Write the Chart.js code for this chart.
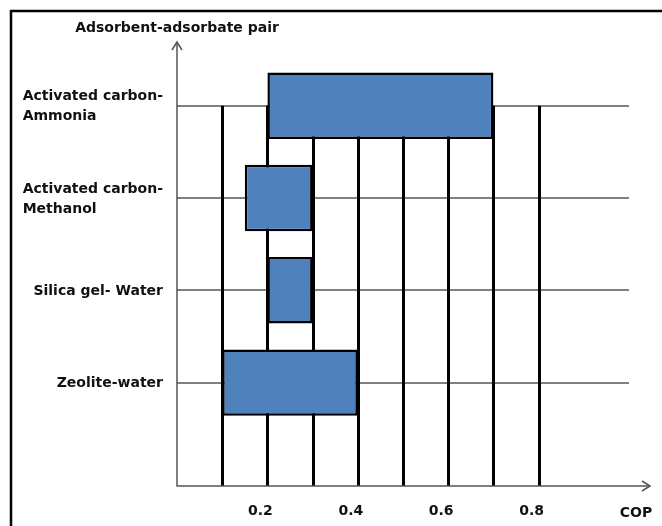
<!DOCTYPE html>
<html>
<head>
<meta charset="utf-8">
<script src="https://cdn.jsdelivr.net/npm/chart.js@4"></script>
<style>
  html, body { margin: 0; padding: 0; background: #fff; }
  canvas { display: block; }
</style>
</head>
<body>
<canvas id="c" width="662" height="526"></canvas>
<script>
// ---- data ----
const pairLabels = [
  ['Activated carbon-', 'Ammonia'],
  ['Activated carbon-', 'Methanol'],
  ['Silica gel- Water'],
  ['Zeolite-water']
];
const copLow  = [0.2, 0.15, 0.2, 0.1];
const copHigh = [0.7, 0.3, 0.3, 0.4];
const copTickLabels = [0.2, 0.4, 0.6, 0.8];
const copGridValues = [0.1, 0.2, 0.3, 0.4, 0.5, 0.6, 0.7, 0.8];
const yAxisTitle = 'Adsorbent-adsorbate pair';
const xAxisTitle = 'COP';

const FONT = 'DejaVu Sans';
Chart.defaults.font.family = FONT;

const barData = pairLabels.map((_, i) => ({ y: i, x: [copLow[i], copHigh[i]] }));

const decor = {
  id: 'decor',
  beforeDatasetsDraw(chart) {
    const { ctx, chartArea: a, scales: { x, y } } = chart;
    const x0 = x.getPixelForValue(0);
    const yTopCat = y.getPixelForValue(0);
    ctx.save();
    // vertical black lines
    ctx.strokeStyle = '#000';
    ctx.lineWidth = 3;
    copGridValues.forEach(v => {
      const px = Math.round(x.getPixelForValue(v)) + 0.5;
      ctx.beginPath();
      ctx.moveTo(px, yTopCat);
      ctx.lineTo(px, a.bottom);
      ctx.stroke();
    });
    // axes
    ctx.strokeStyle = '#555';
    ctx.lineWidth = 1.5;
    const xr = a.right + 21;
    ctx.beginPath();
    ctx.moveTo(x0, a.top);
    ctx.lineTo(x0, a.bottom);
    ctx.lineTo(xr, a.bottom);
    ctx.stroke();
    // arrowheads
    ctx.beginPath();
    ctx.moveTo(x0 - 5, a.top + 8);
    ctx.lineTo(x0, a.top);
    ctx.lineTo(x0 + 5, a.top + 8);
    ctx.moveTo(xr - 8, a.bottom - 5);
    ctx.lineTo(xr, a.bottom);
    ctx.lineTo(xr - 8, a.bottom + 5);
    ctx.stroke();
    ctx.restore();
  },
  afterDraw(chart) {
    const { ctx, chartArea: a, scales: { x, y } } = chart;
    ctx.save();
    ctx.fillStyle = '#111';
    ctx.font = 'bold 14px "' + FONT + '"';
    ctx.textBaseline = 'middle';
    // axis titles
    ctx.textAlign = 'center';
    ctx.fillText(yAxisTitle, x.getPixelForValue(0), 28);
    ctx.fillText(xAxisTitle, a.right + 7, 513);
    // category labels: block right-aligned, lines left-aligned
    ctx.textAlign = 'left';
    const rightEdge = x.getPixelForValue(0) - 14;
    pairLabels.forEach((lines, i) => {
      const cy = y.getPixelForValue(i);
      const w = Math.max(...lines.map(l => ctx.measureText(l).width));
      const lx = rightEdge - w;
      lines.forEach((l, j) => {
        ctx.fillText(l, lx, cy + (j - (lines.length - 1) / 2) * 20 + 1);
      });
    });
    // outer frame
    ctx.strokeStyle = '#000';
    ctx.lineWidth = 2.5;
    ctx.beginPath();
    ctx.moveTo(11, chart.height);
    ctx.lineTo(11, 11);
    ctx.lineTo(chart.width, 11);
    ctx.stroke();
    ctx.restore();
  }
};

new Chart(document.getElementById('c'), {
  type: 'bar',
  data: {
    datasets: [{
      data: barData,
      backgroundColor: '#4F81BD',
      borderColor: '#000',
      borderWidth: 2.5,
      borderSkipped: false,
      categoryPercentage: 0.8,
      barPercentage: 0.9
    }]
  },
  options: {
    indexAxis: 'y',
    responsive: false,
    animation: false,
    layout: { padding: { left: 177, right: 33, top: 42, bottom: 6 } },
    plugins: { legend: { display: false }, tooltip: { enabled: false } },
    scales: {
      x: {
        type: 'linear',
        min: 0, max: 1,
        grid: { display: false, drawTicks: false },
        border: { display: false },
        afterBuildTicks: s => { s.ticks = copTickLabels.map(v => ({ value: v })); },
        afterFit: s => { s.height = 34; },
        ticks: {
          color: '#111',
          font: { size: 14, weight: 'bold', lineHeight: 1.2 },
          padding: 17,
          labelOffset: -7,
          maxRotation: 0,
          callback: v => v.toFixed(1)
        }
      },
      y: {
        type: 'linear',
        reverse: true,
        offset: false,
        min: -0.69, max: 4.12,
        afterBuildTicks: s => { s.ticks = pairLabels.map((_, i) => ({ value: i })); },
        afterFit: s => { s.width = 0; },
        grid: { color: '#808080', lineWidth: 2, drawTicks: false, offset: false },
        border: { display: false },
        ticks: { display: false }
      }
    }
  },
  plugins: [decor]
});
</script>
</body>
</html>
